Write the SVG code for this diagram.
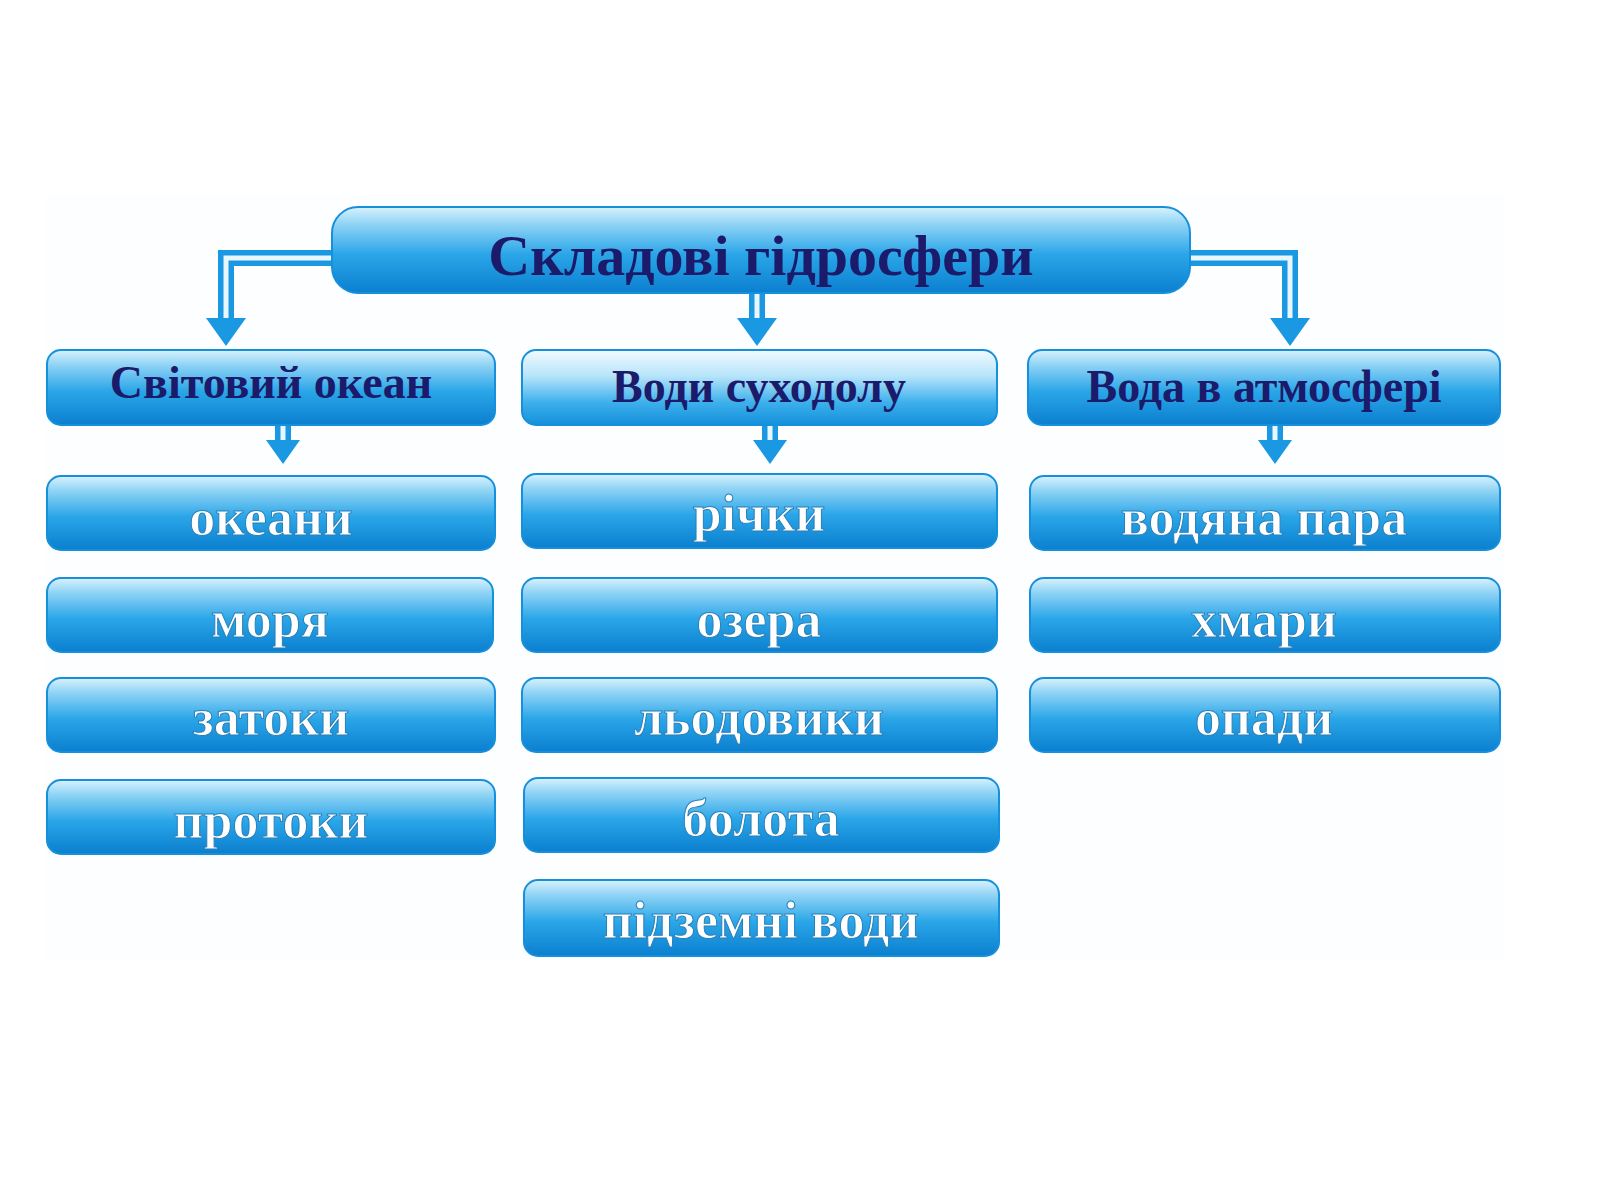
<svg xmlns="http://www.w3.org/2000/svg" width="1600" height="1200" viewBox="0 0 1600 1200">
<defs>
<linearGradient id="g" x1="0" y1="0" x2="0" y2="1">
<stop offset="0" stop-color="#d9f2fd"/><stop offset="0.2" stop-color="#8fd3f5"/><stop offset="0.55" stop-color="#2aa6e8"/><stop offset="1" stop-color="#0b7fcf"/>
</linearGradient>
<linearGradient id="gh" x1="0" y1="0" x2="0" y2="1">
<stop offset="0" stop-color="#f2fbff"/><stop offset="0.35" stop-color="#b6e4fa"/><stop offset="0.7" stop-color="#3db0ec"/><stop offset="1" stop-color="#1490db"/>
</linearGradient>
<style>
.b{fill:url(#g);stroke:#1690dc;stroke-width:2}
.h{fill:url(#gh);stroke:#1690dc;stroke-width:2}
.t{font-family:"Liberation Serif",serif;font-weight:bold;text-anchor:middle}
.n{fill:#1c1a6a;font-size:46px}
.w{fill:#ffffff;font-size:52px;stroke:#2a7fb8;stroke-width:1}
.c1{fill:none;stroke:#1a98e2;stroke-width:16}
.c2{fill:none;stroke:#e8f7ff;stroke-width:5}
.a{fill:#1a98e2}
</style>
</defs>
<rect x="45" y="195" width="1460" height="765" fill="#fcfeff"/>
<g id="connectors">
<path class="c1" d="M335 258 H226 V322"/><path class="c2" d="M335 258 H226 V322"/>
<path class="c1" d="M1188 258 H1290 V322"/><path class="c2" d="M1188 258 H1290 V322"/>
<path class="c1" d="M757 293 V322"/><path class="c2" d="M757 293 V322"/>
<polygon class="a" points="206,318 246,318 226,346"/>
<polygon class="a" points="1270,318 1310,318 1290,346"/>
<polygon class="a" points="737,318 777,318 757,346"/>
<path class="c1" d="M283 426 V444"/><path class="c2" d="M283 426 V444"/>
<path class="c1" d="M770 426 V444"/><path class="c2" d="M770 426 V444"/>
<path class="c1" d="M1275 426 V444"/><path class="c2" d="M1275 426 V444"/>
<polygon class="a" points="266,440 300,440 283,464"/>
<polygon class="a" points="753,440 787,440 770,464"/>
<polygon class="a" points="1258,440 1292,440 1275,464"/>
</g>
<g id="root"><rect class="b" x="332" y="207" width="858" height="86" rx="26"/><text class="t n" x="761" y="275" style="font-size:58px">Складові гідросфери</text></g>
<g id="h1"><rect class="b" x="47" y="350" width="448" height="75" rx="14"/><text class="t n" x="271" y="398">Світовий океан</text></g>
<g id="h2"><rect class="h" x="522" y="350" width="475" height="75" rx="14"/><text class="t n" x="759" y="402">Води суходолу</text></g>
<g id="h3"><rect class="b" x="1028" y="350" width="472" height="75" rx="14"/><text class="t n" x="1264" y="402">Вода в атмосфері</text></g>
<g id="i11"><rect class="b" x="47" y="476" width="448" height="74" rx="14"/><text class="t w" x="271" y="535">океани</text></g>
<g id="i12"><rect class="b" x="47" y="578" width="446" height="74" rx="14"/><text class="t w" x="270" y="637">моря</text></g>
<g id="i13"><rect class="b" x="47" y="678" width="448" height="74" rx="14"/><text class="t w" x="271" y="735">затоки</text></g>
<g id="i14"><rect class="b" x="47" y="780" width="448" height="74" rx="14"/><text class="t w" x="271" y="838">протоки</text></g>
<g id="i21"><rect class="b" x="522" y="474" width="475" height="74" rx="14"/><text class="t w" x="759" y="531">річки</text></g>
<g id="i22"><rect class="b" x="522" y="578" width="475" height="74" rx="14"/><text class="t w" x="759" y="637">озера</text></g>
<g id="i23"><rect class="b" x="522" y="678" width="475" height="74" rx="14"/><text class="t w" x="759" y="735">льодовики</text></g>
<g id="i24"><rect class="b" x="524" y="778" width="475" height="74" rx="14"/><text class="t w" x="761" y="836">болота</text></g>
<g id="i25"><rect class="b" x="524" y="880" width="475" height="76" rx="14"/><text class="t w" x="761" y="938">підземні води</text></g>
<g id="i31"><rect class="b" x="1030" y="476" width="470" height="74" rx="14"/><text class="t w" x="1264" y="535">водяна пара</text></g>
<g id="i32"><rect class="b" x="1030" y="578" width="470" height="74" rx="14"/><text class="t w" x="1264" y="637">хмари</text></g>
<g id="i33"><rect class="b" x="1030" y="678" width="470" height="74" rx="14"/><text class="t w" x="1264" y="735">опади</text></g>
</svg>
